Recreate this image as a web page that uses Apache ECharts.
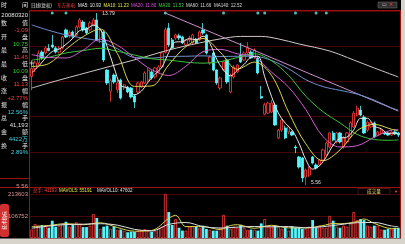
<!DOCTYPE html>
<html><head><meta charset="utf-8">
<script src="https://cdn.jsdelivr.net/npm/echarts/dist/echarts.min.js"></script>
<style>html,body{margin:0;padding:0;background:#000;overflow:hidden}#c{width:405px;height:244px}</style>
</head><body><div id="c"></div>
<script>
// ---- data ----
const opens=[10.75,11.13,11.40,11.92,11.88,12.10,12.26,12.12,11.92,12.12,
12.98,12.70,12.88,12.74,13.12,13.36,13.07,12.98,13.22,13.46,
12.59,12.88,11.06,10.05,10.82,10.11,10.58,10.20,10.25,10.20,
9.82,10.01,10.25,10.44,10.58,10.97,10.73,10.97,11.21,11.90,
13.07,12.50,12.59,12.70,12.64,12.26,12.50,12.36,12.54,12.50,
12.98,12.74,11.40,11.88,11.06,10.20,11.06,11.54,10.01,10.73,
10.97,11.78,11.54,11.88,11.92,11.68,11.64,9.80,8.95,9.00,
9.05,9.39,7.81,8.19,8.29,8.10,8.10,7.38,6.90,6.85,
5.94,6.04,6.90,6.52,6.52,6.76,7.00,7.38,8.05,7.62,
8.05,7.38,7.62,7.86,8.34,8.91,9.15,8.81,8.19,8.34,
8.53,7.95,8.05,8.05,8.05,7.95,8.10,8.05];
const highs=[11.45,11.50,12.00,12.00,12.20,12.30,12.74,12.20,12.20,12.70,
13.05,12.95,12.95,13.20,13.55,13.45,13.12,13.40,13.55,13.79,
13.05,12.95,11.10,10.65,10.90,10.58,10.65,10.40,10.30,10.25,
9.90,10.50,10.55,11.00,11.15,11.05,11.20,11.30,11.95,13.10,
13.31,12.60,12.80,12.80,12.70,12.55,12.70,12.80,12.60,12.95,
13.31,12.80,11.75,11.95,11.10,10.75,11.50,11.60,10.90,11.30,
11.35,12.36,11.95,12.40,12.00,12.10,11.70,10.30,9.50,9.55,
9.63,9.50,8.25,8.75,8.40,8.40,8.15,7.47,6.95,6.90,
6.35,6.45,6.95,6.60,6.80,7.30,7.65,8.10,8.15,8.10,
8.10,7.90,8.10,8.60,9.10,9.35,9.35,8.90,8.65,8.60,
8.60,8.15,8.30,8.15,8.10,8.20,8.20,8.10];
const lows=[10.09,10.95,11.30,11.55,11.80,11.95,12.10,11.85,11.85,12.05,
12.60,12.60,12.60,12.70,13.05,12.90,12.75,12.90,13.15,12.45,
12.36,11.45,10.35,9.55,10.40,9.96,9.65,10.10,9.95,9.70,
9.24,9.95,10.20,10.40,10.50,10.60,10.65,10.90,11.15,11.85,
12.16,12.05,12.50,12.50,12.30,12.20,12.40,12.30,12.30,12.45,
12.75,11.80,11.30,11.00,10.35,10.10,11.00,10.40,9.95,10.65,
10.90,11.40,11.50,11.80,11.60,11.60,10.85,9.68,8.90,8.95,
9.00,8.40,7.75,8.10,7.75,8.00,7.90,7.09,6.35,5.70,
5.56,5.95,6.55,6.30,6.45,6.70,6.95,7.30,7.65,7.55,
7.55,7.30,7.55,7.80,8.30,8.85,8.85,8.00,8.10,8.30,
7.80,7.90,8.00,7.95,7.90,7.90,7.95,7.85];
const closes=[11.13,11.40,11.85,11.64,12.12,12.00,12.16,11.92,12.10,12.64,
12.64,12.85,12.69,13.12,13.46,12.98,12.83,13.31,13.46,12.50,
12.98,11.54,10.44,10.55,10.49,10.44,9.72,10.35,10.01,9.77,
9.53,10.44,10.49,10.92,11.06,10.68,11.16,11.21,11.88,12.98,
12.26,12.12,12.74,12.60,12.36,12.50,12.60,12.74,12.36,12.88,
12.83,11.88,11.68,11.06,10.44,10.68,11.45,10.49,10.82,11.21,
11.30,11.45,11.88,12.12,11.64,12.02,10.92,9.72,9.40,9.48,
9.48,8.43,8.19,8.67,7.81,8.34,7.95,7.33,6.42,5.90,
6.28,6.37,6.61,6.37,6.76,7.24,7.57,8.05,7.71,8.05,
7.62,7.81,8.05,8.53,9.00,9.24,8.91,8.05,8.57,8.53,
7.86,8.10,8.19,8.00,7.95,8.10,8.00,7.95];
const volumes=[41193,68000,60000,63000,63000,50000,84000,55000,60000,70000,
79000,55000,68000,76000,70000,53000,53000,60000,116000,97000,
44000,55000,60000,45000,55000,40000,41000,35000,28000,31000,
30000,36000,38000,43000,35000,31000,36000,45000,55000,213603,
126000,63000,92000,50000,36000,36000,55000,58000,55000,50000,
60000,44000,40000,36000,36000,50000,112000,60000,45000,55000,
50000,64000,50000,40000,41000,40000,36000,71000,92000,55000,
55000,60000,55000,45000,50000,36000,57000,50000,50000,45000,
45000,55000,87000,50000,60000,50000,50000,107000,84000,55000,
50000,60000,55000,70000,126000,87000,92000,87000,60000,55000,
60000,60000,41000,40000,44000,45000,50000,50000];
const categories=opens.map((_,i)=>String(i+1));
// moving averages read at sample days [day index, value]
const ma5=[[0,10.93],[2,11.24],[4,11.63],[6,11.95],[8,12.06],[10,12.29],[12,12.58],[14,12.95],[16,13.02],[18,13.21],[20,13.02],[22,12.19],[24,11.20],[26,10.33],[28,10.20],[30,9.88],[32,10.05],[34,10.49],[36,10.86],[38,11.20],[40,11.90],[42,12.40],[44,12.42],[46,12.56],[48,12.51],[50,12.68],[52,12.33],[54,11.58],[56,11.06],[58,10.78],[60,11.05],[62,11.33],[64,11.68],[66,11.72],[68,10.74],[70,9.80],[72,9.00],[74,8.52],[76,8.19],[78,7.57],[80,6.78],[82,6.32],[84,6.48],[86,6.91],[88,7.47],[90,7.80],[92,7.85],[94,8.20],[96,8.75],[98,8.75],[100,8.38],[102,8.25],[104,8.02],[106,8.05],[107,8.00]];
const ma10=[[0,11.23],[5,11.37],[10,12.05],[15,12.66],[20,13.02],[25,11.85],[30,10.28],[35,10.30],[40,11.31],[45,12.18],[50,12.57],[55,11.92],[60,11.10],[65,11.44],[70,10.81],[75,9.04],[80,7.53],[85,6.72],[90,7.24],[95,8.16],[100,8.46],[105,8.23],[107,8.15]];
const ma20=[[0,11.80],[5,11.66],[10,11.64],[15,12.01],[20,12.53],[25,12.25],[30,11.65],[35,11.08],[40,10.80],[45,11.24],[50,11.94],[55,12.05],[60,11.84],[65,11.68],[70,10.96],[75,10.24],[80,9.17],[85,7.88],[90,7.38],[95,7.44],[100,7.85],[105,8.19],[107,8.22]];
const ma30=[[0,11.53],[5,11.67],[10,11.88],[15,11.99],[20,12.10],[25,11.96],[30,11.78],[35,11.60],[40,11.54],[45,11.44],[50,11.39],[55,11.46],[60,11.66],[65,11.84],[70,11.50],[75,10.80],[80,9.81],[85,9.07],[90,8.53],[95,7.98],[100,7.74],[105,7.70],[107,7.72]];
const ma60=[[0,13.22],[5,12.96],[10,12.74],[15,12.59],[20,12.43],[25,12.08],[30,11.66],[35,11.63],[40,11.71],[45,11.72],[50,11.74],[55,11.71],[60,11.72],[65,11.72],[70,11.52],[75,11.12],[80,10.60],[85,10.27],[90,10.09],[95,9.91],[100,9.62],[105,9.25],[107,9.15]];
const ma140=[[0,10.20],[8,10.58],[20,11.11],[32,11.64],[40,12.02],[49,12.36],[55,12.55],[61,12.67],[67,12.67],[72,12.55],[78,12.31],[87,11.97],[94,11.54],[100,11.16],[107,10.73]];
const trendLine=[[39,13.79],[107,9.10]];
const mavol5=[[0,55191],[5,60800],[10,69600],[15,64400],[20,74000],[25,51000],[30,33000],[35,36600],[40,95100],[42,109900],[45,55400],[50,55600],[55,41200],[58,60600],[60,64400],[65,47000],[70,61800],[75,49200],[80,49400],[85,60400],[88,70200],[90,69200],[95,79600],[97,92400],[100,70800],[105,46000],[107,45800]];
const mavol10=[[0,47602],[5,58000],[10,65200],[15,67000],[20,69200],[25,62500],[30,42000],[35,34800],[40,65900],[45,75300],[50,55500],[55,48400],[60,52800],[65,55700],[70,54400],[75,55500],[80,49300],[85,54900],[90,64800],[95,74400],[100,75200],[105,58400],[107,55000]];
const eventDays=[6,10,39,56,66,68,77,83,86];
const volTicks=['213603','106752'];
const headerItems=[['日线(复权)','#e0e0e0',31],['东方热电','#ff4040',57],['MA5: 10.93','#e8e8e8',78],['MA10: 11.23','#e8e840',103.5],['MA20: 11.80','#e050e0',131],['MA30: 11.53','#40d040',158.5],['MA60: 11.66','#d8d8d8',186],['MA140: 12.52','#d8d8d8',214]];
const infoRows=[['数','值'],['-1.09','#ff4040'],['开','盘'],['10.75','#30d030'],['最','高'],['11.45','#ff4040'],['最','低'],['10.09','#30d030'],['收','盘'],['11.13','#ff4040'],['涨','幅'],['+2.77%','#ff4040'],['振','幅'],['12.56%','#40d0e0'],['总','手'],['41,193','#e0e0e0'],['金','额'],['4422万','#40d0e0'],['换','手'],['2.89%','#40d0e0']];

// ---- chart ----
const RED='#ff3c3c', CYAN='#54f6fc', GRIDC='#4a0606', FRAME='#9a1010';
const FONT6='6px "Liberation Sans","Noto Sans CJK SC",sans-serif';
const FONT5='4.6px "Liberation Sans","Noto Sans CJK SC",sans-serif';
const FONTH='4.5px "Liberation Sans","Noto Sans CJK SC",sans-serif';
function txt(x,y,text,fill,align,font){return {type:'text',x:x,y:y,silent:true,z:100,style:{text:text,fill:fill,font:font||FONT6,textAlign:align||'left',align:align||'left',textVerticalAlign:'middle',verticalAlign:'middle'}};}
function ln(x1,y1,x2,y2,c,w){return {type:'line',silent:true,z:90,shape:{x1:x1,y1:y1,x2:x2,y2:y2},style:{stroke:c,lineWidth:w||1}};}
const g=[];
g.push({type:'rect',silent:true,z:80,shape:{x:401,y:0,width:4,height:244},style:{fill:'#d8d4cc'}});
g.push({type:'rect',silent:true,z:80,shape:{x:0,y:238.5,width:405,height:6},style:{fill:'#d8d4cc'}});
g.push(ln(29.5,10.5,400.5,10.5,FRAME));
g.push(ln(29.5,10.5,29.5,238,FRAME));
g.push(ln(400.5,10.5,400.5,238,FRAME));
g.push(ln(0,187.5,400.5,187.5,FRAME));
g.push(ln(0,178.5,29.5,178.5,FRAME));
g.push(ln(29.5,63,34,63,'#e0e0e0',0.8));
g.push(ln(31.7,60.5,31.7,65.5,'#e0e0e0',0.8));
g.push(txt(1,5,'时','#e0e0e0','left'));
g.push(txt(28,5,'间','#e0e0e0','right'));
g.push(txt(28,15,'20080320','#e0e0e0','right'));
infoRows.forEach((r,k)=>{const y=23.5+6.8*k; if(r[1].length===1&&!/[0-9]/.test(r[0])){g.push(txt(1,y,r[0],'#e0e0e0','left'));g.push(txt(28,y,r[1],'#e0e0e0','right'));}else{g.push(txt(28,y,r[0],r[1],'right'));}});
headerItems.forEach(h=>g.push(txt(h[2],5.5,h[0],h[1],'left',FONTH)));
g.push({type:'rect',silent:true,z:90,shape:{x:378,y:2,width:19,height:6},style:{fill:'#303030',stroke:'#707070',lineWidth:0.5}});
g.push(txt(391,5,'✕',RED,'center',FONT5));
g.push(txt(384,5,'▭','#c0c0c0','center',FONT5));
g.push(txt(28,186,'5.56','#e09090','right'));
g.push(txt(28,194.5,volTicks[0],'#e09090','right'));
g.push(txt(28,216.5,volTicks[1],'#e09090','right'));
g.push(txt(33,191,'总手: 41193','#ff4040','left',FONTH));
g.push(txt(59,191,'MAVOL5: 55191','#e8e840','left',FONTH));
g.push(txt(97,191,'MAVOL10: 47602','#e0e0e0','left',FONTH));
g.push({type:'rect',silent:true,z:90,shape:{x:358,y:188.5,width:32,height:6},style:{fill:'#000',stroke:'#7a2020',lineWidth:0.6}});
g.push(txt(374,191.5,'成交量','#e8d060','center',FONT5));
g.push({type:'circle',silent:true,z:90,shape:{cx:396,cy:191.5,r:1},style:{fill:RED}});
g.push({type:'rect',silent:true,z:90,shape:{x:0,y:204,width:9,height:33,r:2},style:{fill:'#d03030'}});
g.push({type:'text',silent:true,z:100,x:4.5,y:220.5,rotation:Math.PI/2,style:{text:'技术指标',fill:'#ffffff',font:FONT5,textAlign:'center',align:'center',textVerticalAlign:'middle',verticalAlign:'middle'}});

const candleData=opens.map((o,i)=>[o,closes[i],lows[i],highs[i]]);
const volData=volumes.map((v,i)=>({value:v,itemStyle:closes[i]>=opens[i]?{color:'#000',borderColor:RED,borderWidth:0.8}:{color:CYAN,borderColor:CYAN,borderWidth:0}}));
function maLine(data,color,yi,xi){return {type:'line',data:data,xAxisIndex:xi||0,yAxisIndex:yi||0,smooth:0.35,showSymbol:false,symbol:'none',lineStyle:{color:color,width:1},z:5,silent:true};}

const option={
  backgroundColor:'#000',
  animation:false,
  graphic:g,
  grid:[{left:30,top:11,width:370,height:176},{left:30,top:194,width:370,height:44}],
  xAxis:[
    {type:'category',gridIndex:0,data:categories,boundaryGap:true,show:false},
    {type:'category',gridIndex:1,data:categories,boundaryGap:true,show:false}
  ],
  yAxis:[
    {type:'value',gridIndex:0,min:5.465,max:13.886,show:false,splitLine:{show:false}},
    {type:'value',gridIndex:0,min:0,max:5,interval:1,axisLine:{show:false},axisTick:{show:false},axisLabel:{show:false},splitLine:{show:true,lineStyle:{color:GRIDC,width:1}}},
    {type:'value',gridIndex:1,min:0,max:213603,interval:106801.5,axisLine:{show:false},axisTick:{show:false},axisLabel:{show:false},splitLine:{show:true,lineStyle:{color:GRIDC,width:1}}}
  ],
  series:[
    {type:'candlestick',xAxisIndex:0,yAxisIndex:0,data:candleData,barWidth:2.8,
     itemStyle:{color:'#000',color0:CYAN,borderColor:RED,borderColor0:CYAN,borderWidth:0.8},
     markPoint:{symbol:'rect',symbolSize:[3,0.7],silent:true,
       label:{show:true,position:'right',distance:1,color:'#e0e0e0',fontSize:5,fontFamily:'Liberation Sans'},
       data:[{coord:[19,13.79],value:'13.79',symbolOffset:[3,1],symbolRotate:25,label:{formatter:'13.79'}},
             {coord:[80,5.56],value:'5.56',symbolOffset:[3,-2],symbolRotate:45,label:{formatter:'5.56'}}]}},
    maLine(ma140,'#d0c8c8'),
    {type:'line',data:trendLine,xAxisIndex:0,yAxisIndex:0,showSymbol:false,symbol:'none',lineStyle:{color:'#c890c8',width:1},z:5,silent:true},
    maLine(ma60,'#6f8fd0'),
    maLine(ma30,'#40c040'),
    maLine(ma20,'#d060d0'),
    maLine(ma10,'#d8d850'),
    maLine(ma5,'#e8e8e8'),
    {type:'scatter',xAxisIndex:0,yAxisIndex:1,data:eventDays.map(d=>[d,4.94]),symbol:'circle',symbolSize:3,itemStyle:{color:'#60e8f0'},silent:true},
    {type:'bar',xAxisIndex:1,yAxisIndex:2,data:volData,barWidth:2.8,silent:true},
    maLine(mavol5,'#d8d850',2,1),
    maLine(mavol10,'#e0e0e0',2,1)
  ]
};
const chart=echarts.init(document.getElementById('c'),null,{renderer:'canvas'});
chart.setOption(option);
</script></body></html>
